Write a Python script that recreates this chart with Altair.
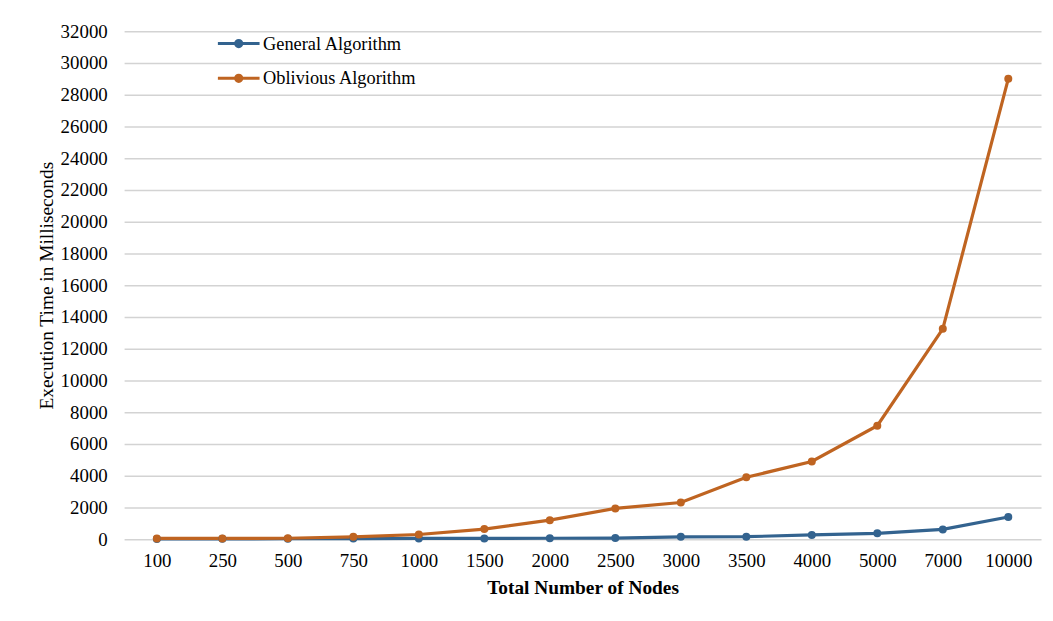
import altair as alt
import pandas as pd

nodes = ["100", "250", "500", "750", "1000", "1500", "2000", "2500", "3000",
         "3500", "4000", "5000", "7000", "10000"]
general = [20, 25, 30, 40, 50, 50, 60, 70, 150, 160, 270, 370, 620, 1400]
oblivious = [50, 50, 60, 150, 300, 640, 1200, 1940, 2310, 3900, 4900, 7150, 13250, 29000]
series = ["General Algorithm", "Oblivious Algorithm"]
y_ticks = list(range(0, 32001, 2000))

rows = []
for n, g, o in zip(nodes, general, oblivious):
    rows.append({"nodes": n, "series": series[0], "time": g})
    rows.append({"nodes": n, "series": series[1], "time": o})
df = pd.DataFrame(rows)

FONT = "Liberation Serif"
line_colors = ["#33638f", "#bf6421"]

x = alt.X("nodes:O", sort=nodes,
          axis=alt.Axis(title="Total Number of Nodes", labelAngle=0, ticks=False,
                        domain=False, labelPadding=12, labelFontSize=19,
                        titleFontSize=19.5, titleFontWeight="bold",
                        titleY=49, titleBaseline="middle"))
y = alt.Y("time:Q", scale=alt.Scale(domain=[0, 32000], nice=False),
          axis=alt.Axis(title="Execution Time  in Milliseconds", values=y_ticks,
                        format="d", ticks=False, domain=False, labelPadding=17,
                        labelFontSize=19, titleFontSize=19.5, titleFontWeight="normal",
                        titleX=-78, titleBaseline="middle", gridColor="#d3d3d3",
                        gridWidth=1.5))
color = alt.Color("series:N", scale=alt.Scale(domain=series, range=line_colors),
                  legend=alt.Legend(title=None, orient="none", legendX=103.5, legendY=0.5,
                                    symbolType="M-2,0H2M0.3,0A0.3,0.3,0,1,1,-0.3,0A0.3,0.3,0,1,1,0.3,0Z",
                                    symbolSize=441, symbolStrokeWidth=3, labelOffset=12.5,
                                    rowPadding=13, labelFontSize=18.5, padding=0))

base = alt.Chart(df).encode(x=x, y=y, color=color)
lines = base.mark_line(strokeWidth=3.2)
points = base.mark_point(filled=True, size=65, opacity=1)

chart = (lines + points).properties(
    width=924, height=512,
    autosize=alt.AutoSizeParams(type="none"),
    padding={"left": 117, "top": 21, "right": 4, "bottom": 70},
).configure(font=FONT).configure_view(stroke=None).configure_axis(
    labelColor="#000", titleColor="#000", labelFont=FONT, titleFont=FONT
).configure_legend(labelFont=FONT, labelColor="#000")

chart.save("out.html", embed_options={"renderer": "svg", "actions": False})
